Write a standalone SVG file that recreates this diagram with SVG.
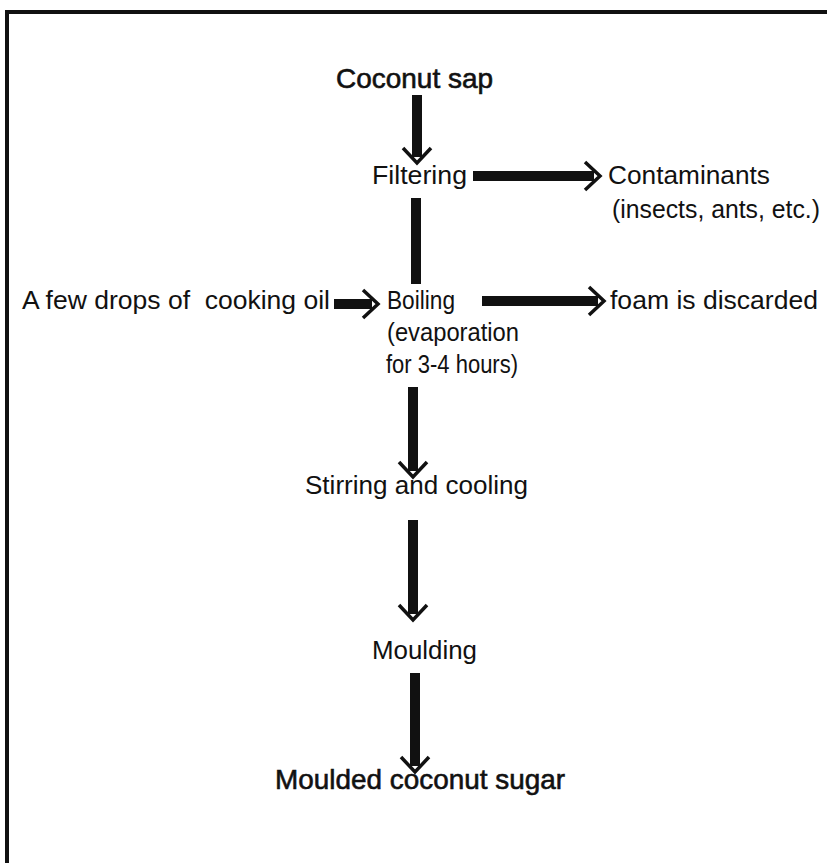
<svg xmlns="http://www.w3.org/2000/svg" width="827" height="863" viewBox="0 0 827 863">
<defs>
<marker id="chev" markerUnits="userSpaceOnUse" viewBox="0 0 20 32" markerWidth="20" markerHeight="32" refX="11" refY="16" orient="auto">
<path d="M2,2 L17,16 L2,30" fill="none" stroke="#111" stroke-width="3.5" stroke-linejoin="miter"/>
</marker>
<style>
text{font-family:"Liberation Sans",Arial,sans-serif;fill:#111;}
.b{font-size:28px;stroke:#111;stroke-width:0.6;}
.r{font-size:26px;}
.s{font-size:25px;}
.bar{stroke:#111;stroke-width:10;fill:none;}
.frame{stroke:#111;stroke-width:4;fill:none;}
</style>
</defs>
<rect width="827" height="863" fill="#fff"/>
<path class="frame" d="M7,870 L7,12 L830,12"/>
<g id="connectors">
<line class="bar" x1="417" y1="95" x2="417" y2="157" marker-end="url(#chev)"/>
<line class="bar" x1="473" y1="176" x2="594" y2="176" marker-end="url(#chev)"/>
<line class="bar" x1="416" y1="198" x2="416" y2="284"/>
<line class="bar" x1="334" y1="304" x2="372" y2="304" marker-end="url(#chev)"/>
<line class="bar" x1="482" y1="301" x2="598" y2="301" marker-end="url(#chev)"/>
<line class="bar" x1="413" y1="387" x2="413" y2="471" marker-end="url(#chev)"/>
<line class="bar" x1="413" y1="520" x2="413" y2="614" marker-end="url(#chev)"/>
<line class="bar" x1="415" y1="673" x2="415" y2="766" marker-end="url(#chev)"/>
</g>
<g id="coconut-sap"><text class="b" x="336" y="88" textLength="157" lengthAdjust="spacingAndGlyphs">Coconut sap</text></g>
<g id="filtering"><text class="r" x="372" y="184" textLength="95" lengthAdjust="spacingAndGlyphs">Filtering</text></g>
<g id="contaminants"><text class="r" x="608" y="184" textLength="162" lengthAdjust="spacingAndGlyphs">Contaminants</text><text class="s" x="612" y="218" textLength="208" lengthAdjust="spacingAndGlyphs">(insects, ants, etc.)</text></g>
<g id="cooking-oil"><text class="r" x="22" y="309" textLength="308" lengthAdjust="spacingAndGlyphs" xml:space="preserve">A few drops of  cooking oil</text></g>
<g id="boiling"><text class="s" x="387" y="309" textLength="68" lengthAdjust="spacingAndGlyphs">Boiling</text><text class="s" x="387" y="341" textLength="132" lengthAdjust="spacingAndGlyphs">(evaporation</text><text class="s" x="386" y="373" textLength="132" lengthAdjust="spacingAndGlyphs">for 3-4 hours)</text></g>
<g id="foam"><text class="r" x="610" y="309" textLength="208" lengthAdjust="spacingAndGlyphs">foam is discarded</text></g>
<g id="stirring"><text class="r" x="305" y="494" textLength="223" lengthAdjust="spacingAndGlyphs">Stirring and cooling</text></g>
<g id="moulding"><text class="r" x="372" y="659" textLength="105" lengthAdjust="spacingAndGlyphs">Moulding</text></g>
<g id="moulded-sugar"><text class="b" x="275" y="789" textLength="290" lengthAdjust="spacingAndGlyphs">Moulded coconut sugar</text></g>
</svg>
